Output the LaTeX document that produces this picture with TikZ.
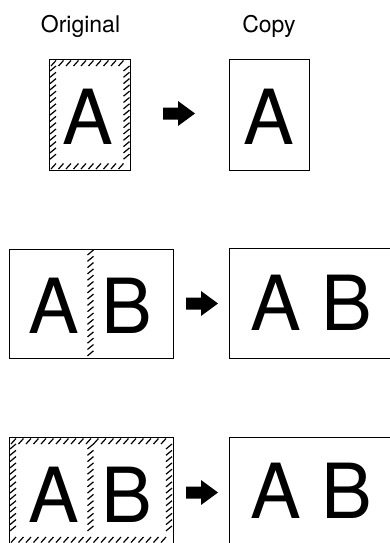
\documentclass[tikz,border=0pt]{standalone}
\usepackage{fontspec}
\setmainfont{TeX Gyre Heros}
\begin{document}
\begin{tikzpicture}[x=1pt,y=-1pt,
  sheet/.style={draw=black,line width=1pt},
  hatchline/.style={draw=black,line width=1.2pt},
  bigletter/.style={inner sep=0pt,anchor=base,font=\fontsize{76}{76}\selectfont},
  caption/.style={inner sep=0pt,anchor=base,font=\fontsize{23}{23}\selectfont},
  blockarrow/.style={fill=black}]
\useasboundingbox (0,0) rectangle (389,543);
\newcommand\hatchrow[2]{\foreach \hx in {#1}{\draw[hatchline] (\hx,#2+5.5) -- (\hx+5,#2);}}
\newcommand\hatchcol[2]{\foreach \hy in {#2}{\draw[hatchline] (#1,\hy+5) -- (#1+6,\hy);}}
\newcommand\blockarr[2]{\fill[blockarrow] (#1,#2-6) -- (#1+15,#2-6) -- (#1+15,#2-12.5) -- (#1+32,#2) -- (#1+15,#2+12.5) -- (#1+15,#2+6) -- (#1,#2+6) -- cycle;}
% captions
\node[caption] (orig) at (80.5,33) {Original};
\node[caption] (copy) at (269,33) {Copy};
% ---- row 1
\draw[sheet] (49.5,59.5) rectangle (130,170);
\hatchrow{51,58.5,...,124}{60.5}
\hatchrow{51,58.5,...,124}{163.5}
\hatchcol{50}{66,72.3,...,158}
\hatchcol{123.5}{66,72.3,...,158}
\node[bigletter] (a1) at (88,144) {A};
\blockarr{163}{113.5}
\draw[sheet] (229,59.5) rectangle (309,170);
\node[bigletter] (c1) at (269,144) {A};
% ---- row 2
\draw[sheet] (9.5,249) rectangle (173,358);
\hatchcol{87.5}{250,256.3,...,352}
\node[bigletter] (a2) at (54,333) {A};
\node[bigletter] (b2) at (126.5,333) {B};
\blockarr{186}{303.5}
\draw[sheet] (229,248) rectangle (395,358);
\node[bigletter] (c2a) at (276,330) {A};
\node[bigletter] (c2b) at (347,330) {B};
% ---- row 3
\draw[sheet] (9.5,437.5) rectangle (173,550);
\hatchrow{11,18.5,...,166}{438.5}
\hatchrow{11,18.5,...,166}{537}
\hatchcol{10}{444,450.3,...,532}
\hatchcol{166}{444,450.3,...,532}
\hatchcol{87.5}{444,450.3,...,532}
\node[bigletter] (a3) at (54,522) {A};
\node[bigletter] (b3) at (126.5,522) {B};
\blockarr{186}{492.5}
\draw[sheet] (229,437.5) rectangle (395,550);
\node[bigletter] (c3a) at (276,518) {A};
\node[bigletter] (c3b) at (347,518) {B};
\end{tikzpicture}
\end{document}
